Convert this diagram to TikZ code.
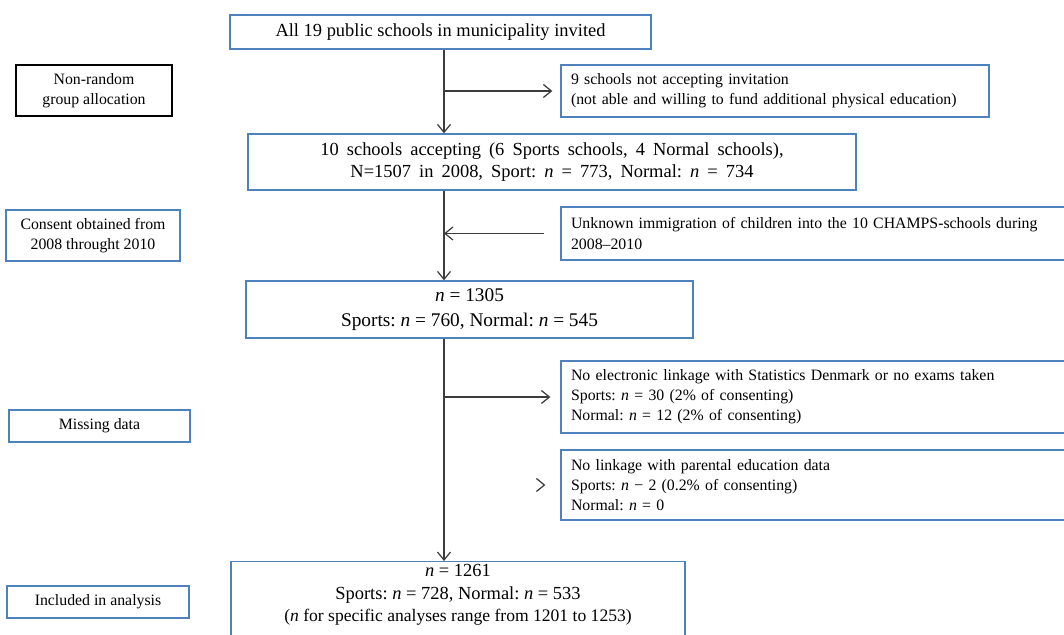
\documentclass[tikz,border=0pt]{standalone}
\usepackage{fontspec}
\setmainfont{Liberation Serif}
\usepackage{xcolor}
\definecolor{FrameBlue}{RGB}{79,129,189}
\definecolor{LineGray}{RGB}{60,60,60}
\usetikzlibrary{positioning,arrows.meta,calc}
\newcommand\widewords{\spaceskip 4.6pt plus 1pt\relax}

\begin{document}
\frenchspacing
\begin{tikzpicture}[
    x=0.02cm, y=-0.02cm,
    every node/.style={font=\fontsize{9}{11.4}\selectfont},
    box/.style={rectangle, draw=FrameBlue, line width=0.8pt, align=center, inner sep=0pt},
    flowbox/.style={box, font=\fontsize{10.5}{12.6}\selectfont},
    widebox/.style={box, font=\fontsize{10.5}{12.6}\selectfont\widewords},
    sidebox/.style={box, align=left, inner xsep=0.2cm},
    stagebox/.style={box, minimum height=1.02cm},
    arrow/.style={-{Straight Barb[length=1.6mm,width=2.6mm]}, draw=LineGray, line width=0.7pt}
]
    \useasboundingbox (0,0) rectangle (1064,635);

    \node[flowbox, minimum width=8.42cm, minimum height=0.68cm] (invited) at (440.5,32)
        {All 19 public schools in municipality invited};
    \node[widebox, minimum width=12.16cm, minimum height=1.12cm] (accept) at (552,162)
        {10 schools accepting (6 Sports schools, 4 Normal schools),\\
         N=1507 in 2008, Sport: \textit{n} = 773, Normal: \textit{n} = 734};
    \node[flowbox, font=\fontsize{11}{14}\selectfont, minimum width=8.94cm, minimum height=1.14cm] (consent) at (469.5,309.5)
        {\textit{n} = 1305\\ Sports: \textit{n} = 760, Normal: \textit{n} = 545};
    \node[flowbox, anchor=north, inner ysep=0.06cm, inner xsep=0pt] (final) at (458,561)
        {\parbox[t][1.7cm][t]{9.08cm}{\centering
         \textit{n} = 1261\\ Sports: \textit{n} = 728, Normal: \textit{n} = 533\\
         {\fontsize{10}{12.6}\selectfont(\textit{n} for specific analyses range from 1201 to 1253)}}};

    \node[sidebox, text width=8.16cm, minimum height=1.04cm] (notaccept) at (775,91)
        {9 schools not accepting invitation\\
         (not able and willing to fund additional physical education)};
    \node[sidebox, text width=9.88cm, minimum height=1.06cm] (immig) at (818,233.5)
        {Unknown immigration of children into the 10 CHAMPS-schools during\\ 2008--2010};
    \node[sidebox, text width=9.88cm, minimum height=1.44cm] (nolink) at (818,397)
        {No electronic linkage with Statistics Denmark or no exams taken\\
         Sports: \textit{n} = 30 (2\% of consenting)\\
         Normal: \textit{n} = 12 (2\% of consenting)};
    \node[sidebox, text width=9.88cm, minimum height=1.40cm] (noparent) at (818,485)
        {No linkage with parental education data\\
         Sports: \textit{n} − 2 (0.2\% of consenting)\\
         Normal: \textit{n} = 0};

    \node[stagebox, draw=black, minimum width=3.12cm] (alloc) at (94,90.5)
        {Non-random\\ group allocation};
    \node[stagebox, minimum width=3.48cm] (obtained) at (93,235.5)
        {Consent obtained from\\ 2008 throught 2010};
    \node[box, minimum width=3.62cm, minimum height=0.64cm] (missing) at (99.5,426)
        {Missing data};
    \node[box, minimum width=3.64cm, minimum height=0.64cm] (included) at (98,602)
        {Included in analysis};

    \coordinate (spine) at (444,0);
    \draw[arrow] (spine |- invited.south) -- (spine |- accept.north);
    \draw[arrow] (spine |- accept.south) -- (spine |- consent.north);
    \draw[arrow] (spine |- consent.south) -- (spine |- final.north);
    \draw[arrow] (spine |- notaccept.west) -- ([xshift=-0.16cm]notaccept.west);
    \draw[arrow] ([xshift=-0.32cm]immig.west) -- (spine |- immig.west);
    \draw[arrow] (spine |- nolink.west) -- ([xshift=-0.2cm]nolink.west);
    \draw[arrow] ([xshift=-0.34cm]noparent.west) -- ([xshift=-0.3cm]noparent.west);
\end{tikzpicture}
\end{document}
